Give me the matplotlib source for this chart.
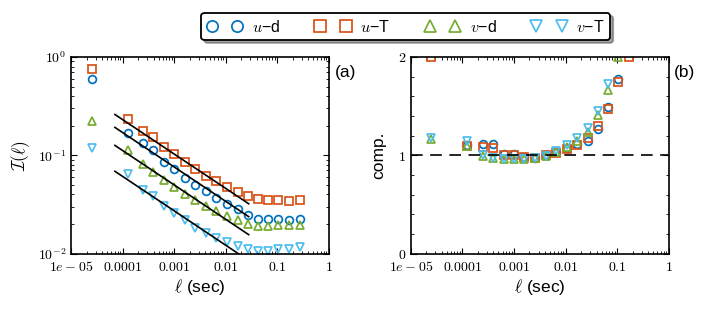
import numpy as np
import matplotlib
matplotlib.use('Agg')
import matplotlib.pyplot as plt
from matplotlib.ticker import MultipleLocator, NullFormatter

plt.rcParams['font.family'] = ['Liberation Sans', 'DejaVu Sans']
plt.rcParams['mathtext.fontset'] = 'cm'

# scale (sec)
ell = [2.5e-5, 1.25e-4, 2.5e-4, 3.9e-4, 6.4e-4, 1.0e-3, 1.6e-3, 2.6e-3, 4.1e-3,
       6.6e-3, 0.0107, 0.017, 0.027, 0.042, 0.066, 0.106, 0.17, 0.28]

# panel (a): I(ell)
I_ud = [0.60, 0.17, 0.133, 0.114, 0.0855, 0.0725, 0.0587, 0.0494, 0.043, 0.0367,
        0.0316, 0.0281, 0.0244, 0.0226, 0.0226, 0.0226, 0.0217, 0.0226]
I_uT = [0.76, 0.233, 0.177, 0.154, 0.12, 0.102, 0.0855, 0.0725, 0.062, 0.0547,
        0.0475, 0.0422, 0.0382, 0.0362, 0.035, 0.035, 0.034, 0.035]
I_vd = [0.222, 0.112, 0.082, 0.0676, 0.0556, 0.0475, 0.0407, 0.0347, 0.0304, 0.0268,
        0.024, 0.0217, 0.0201, 0.019, 0.019, 0.0196, 0.0194, 0.0196]
I_vT = [0.119, 0.065, 0.044, 0.0385, 0.0304, 0.026, 0.0217, 0.0181, 0.0161, 0.0143,
        0.0132, 0.0119, 0.011, 0.0107, 0.0107, 0.0112, 0.0112, 0.0116]

# power-law fits: A * (ell/ell0)^slope over [ell0, ell1]
fit_ell = [7.1e-5, 0.028]
fit_amp = [0.26, 0.192, 0.126, 0.0687]
fit_slope = -0.35

# panel (b): compensated
c_ud = [2.14, 1.10, 1.11, 1.11, 1.01, 1.01, 0.98, 0.97, 1.0, 1.03, 1.07, 1.11,
        1.15, 1.27, 1.49, 1.78, 2.4, 3.5]
c_uT = [2.0, 1.09, 1.08, 1.07, 1.0, 1.0, 0.98, 0.97, 1.0, 1.02, 1.06, 1.10,
        1.18, 1.30, 1.47, 1.75, 2.0, 3.0]
c_vd = [1.17, 1.09, 0.99, 0.97, 0.96, 0.96, 0.96, 0.97, 0.99, 1.03, 1.08, 1.14,
        1.24, 1.41, 1.66, 2.0, 2.5, 3.5]
c_vT = [1.18, 1.14, 1.0, 0.97, 0.96, 0.96, 0.96, 0.97, 0.99, 1.04, 1.10, 1.18,
        1.28, 1.45, 1.72, 2.2, 2.8, 4.0]

labels = ['$u$\u2212d', '$u$\u2212T', '$v$\u2212d', '$v$\u2212T']
colors = ['#0072BD', '#D95319', '#77AC30', '#4DBEEE']
markers = ['o', 's', '^', 'v']

xticks = [1e-5, 1e-4, 1e-3, 1e-2, 1e-1, 1]
xticklabels = ['$1e-05$', '$0.0001$', '$0.001$', '$0.01$', '$0.1$', '$1$']

fig = plt.figure(figsize=(7.06, 3.09), dpi=100)
ax1 = fig.add_axes([0.1006, 0.1796, 0.365, 0.636])
ax2 = fig.add_axes([0.582, 0.1796, 0.365, 0.636])

handles = []
for ys, c, m, lab in zip([I_ud, I_uT, I_vd, I_vT], colors, markers, labels):
    h, = ax1.plot(ell, ys, linestyle='none', marker=m, ms=5.6, mfc='none',
                  mec=c, mew=1.25, label=lab)
    handles.append(h)

xf = np.logspace(np.log10(fit_ell[0]), np.log10(fit_ell[1]), 50)
for A in fit_amp:
    ax1.plot(xf, A * (xf / fit_ell[0]) ** fit_slope, color='k', lw=1.2)

for ys, c, m in zip([c_ud, c_uT, c_vd, c_vT], colors, markers):
    ax2.plot(ell, ys, linestyle='none', marker=m, ms=5.6, mfc='none',
             mec=c, mew=1.25)
ax2.axhline(1, color='k', lw=1.2, ls=(0, (7, 4.5)))

for ax in (ax1, ax2):
    ax.set_xscale('log')
    ax.set_xlim(1e-5, 1)
    ax.set_xticks(xticks)
    ax.set_xticklabels(xticklabels)
    ax.xaxis.set_minor_formatter(NullFormatter())
    ax.tick_params(which='both', direction='in', top=True, right=True,
                   labelsize=10)
    ax.tick_params(axis='x', which='major', pad=4.5)
    ax.tick_params(which='major', length=4, width=0.8)
    ax.tick_params(which='minor', length=2, width=0.6)
    ax.set_xlabel(r'$\ell$ (sec)', fontsize=12.5, labelpad=2)
    for s in ax.spines.values():
        s.set_linewidth(1.2)

ax1.set_yscale('log')
ax1.set_ylim(1e-2, 1)
ax1.set_yticks([1e-2, 1e-1, 1])
ax1.set_yticklabels(['$10^{-2}$', '$10^{-1}$', '$10^{0}$'])
ax1.yaxis.set_minor_formatter(NullFormatter())
ax1.set_ylabel(r'$\mathcal{I}(\ell)$', fontsize=12.5, labelpad=4)

ax2.set_ylim(0, 2)
ax2.set_yticks([0, 1, 2])
ax2.set_yticklabels(['$0$', '$1$', '$2$'])
ax2.yaxis.set_minor_locator(MultipleLocator(0.2))
ax2.set_ylabel('comp.', fontsize=12.5, labelpad=8)

fig.text(0.474, 0.764, '(a)', fontsize=12.5, va='center')
fig.text(0.955, 0.764, '(b)', fontsize=12.5, va='center')

leg = fig.legend(handles=handles, loc='center', bbox_to_anchor=(0.575, 0.914),
                 ncol=4, numpoints=2, fontsize=11.5, fancybox=True, shadow=True,
                 markerscale=1.45, columnspacing=2.2, handlelength=2.2,
                 handletextpad=0.6, borderpad=0.35, framealpha=1)
leg.get_frame().set_edgecolor('k')
leg.get_frame().set_linewidth(1.3)

fig.savefig('out.png', dpi=100)
